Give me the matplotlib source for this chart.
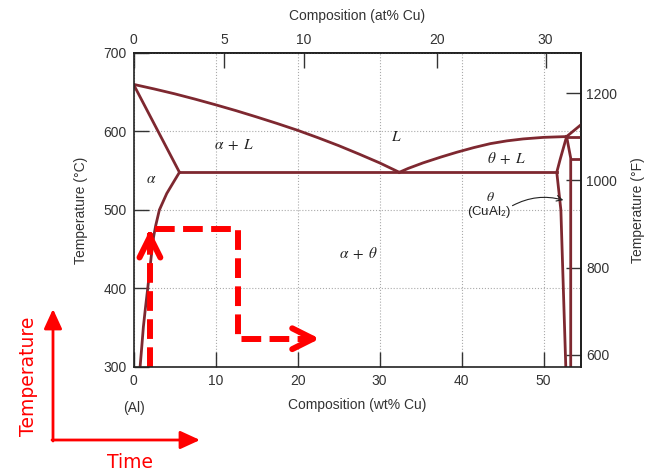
import numpy as np
import matplotlib
matplotlib.use('Agg')
import matplotlib.pyplot as plt

# Al-Cu phase boundaries (wt% Cu, deg C)
liquidus_al_x = [0, 2.5, 5, 7.5, 10, 12.5, 15, 17.5, 20, 22.5, 25, 27.5, 30, 32.4]
liquidus_al_t = [660, 654.2, 648, 641.2, 634, 626.5, 618.5, 610.2, 601.5, 592, 582, 571.2, 560, 548]
solidus_x = [0, 5.6]
solidus_t = [660, 548]
solvus_x = [5.6, 4.85, 4.05, 3.15, 2.7, 2.45, 2.15, 1.73, 1.45, 1.2, 1.0, 0.8]
solvus_t = [548, 535, 521, 500, 480, 466, 440, 400, 375, 351, 325, 300]
eutectic_x = [5.6, 51.6]
eutectic_t = [548, 548]
liquidus_theta_x = [32.4, 33.5, 35.3, 37.5, 39.4, 41.5, 43.5, 45.5, 47.5, 50.0, 52.8]
liquidus_theta_t = [548, 553, 560, 567.5, 573.5, 579.5, 584.5, 588, 590.5, 592.5, 593.5]
peritectic_x = [52.8, 54.6]
peritectic_t = [593.5, 593.5]
upper_x = [52.8, 54.6]
upper_t = [593.5, 609]
theta_left_x = [52.8, 52.0, 51.6, 52.1, 52.7]
theta_left_t = [593.5, 564, 548, 500, 300]
theta_right_x = [52.8, 53.3, 53.3]
theta_right_t = [593.5, 566, 300]
step_x = [53.3, 54.6]
step_t = [565, 565]

# phase field labels
region_labels = [r'$\alpha\;+\;L$', r'$L$', r'$\theta\;+\;L$', r'$\alpha$', r'$\alpha\;+\;\theta$']
region_x = [12.2, 32.1, 45.5, 2.2, 27.4]
region_t = [583, 593, 566, 540, 445]

# heat treatment path drawn in red
path_up_x = [2.0, 2.0]
path_up_t = [300, 468]
path_x = [2.6, 12.7, 12.7, 21.5]
path_t = [476, 476, 336, 336]

# tick values
wt_ticks = [0, 10, 20, 30, 40, 50]
at_ticks = [0, 5, 10, 20, 30]
c_ticks = [300, 400, 500, 600, 700]
f_ticks = [600, 800, 1000, 1200]

phase_color = '#7e2830'
text_color = '#333333'

plt.rc('font', family='Liberation Sans', size=10)
plt.rc('mathtext', fontset='stix')


def wt_to_at(w):
    w = np.asarray(w, dtype=float)
    cu = w / 63.546
    al = (100 - w) / 26.982
    return 100 * cu / (cu + al)


def at_to_wt(a):
    a = np.asarray(a, dtype=float)
    cu = a * 63.546
    al = (100 - a) * 26.982
    return 100 * cu / (cu + al)


def c_to_f(c):
    return np.asarray(c, dtype=float) * 9 / 5 + 32


def f_to_c(f):
    return (np.asarray(f, dtype=float) - 32) * 5 / 9


fig = plt.figure(figsize=(6.46, 4.75), dpi=100)
ax = fig.add_axes([0.2067, 0.2274, 0.6920, 0.6611])

# phase boundaries
for xs, ts in [(liquidus_al_x, liquidus_al_t), (solidus_x, solidus_t),
               (solvus_x, solvus_t), (eutectic_x, eutectic_t),
               (liquidus_theta_x, liquidus_theta_t), (peritectic_x, peritectic_t),
               (upper_x, upper_t), (theta_left_x, theta_left_t),
               (theta_right_x, theta_right_t), (step_x, step_t)]:
    ax.plot(xs, ts, color=phase_color, lw=2.0, solid_joinstyle='round')

for lab, x, t in zip(region_labels, region_x, region_t):
    ax.text(x, t, lab, ha='center', va='center', fontsize=11, color='#222')

# theta (CuAl2) callout
ax.text(43.5, 517, r'$\theta$', ha='center', va='center', fontsize=10, color='#222')
ax.text(43.4, 497, r'(CuAl$_{\mathsf{2}}$)', ha='center', va='center', fontsize=9.5, color='#222')
ax.annotate('', xy=(52.4, 512.5), xytext=(46.2, 505.5),
            arrowprops=dict(arrowstyle='->', color='#222', lw=0.8,
                            connectionstyle='arc3,rad=-0.2', shrinkA=0, shrinkB=0))

# red dashed heat treatment path
ax.plot(path_up_x, path_up_t, color='red', lw=4.3, linestyle=(0, (3.3, 1.4)),
        dash_capstyle='butt')
ax.plot(path_x, path_t, color='red', lw=4.3, linestyle=(0, (3.3, 1.4)),
        dash_capstyle='butt', dash_joinstyle='round')
ax.annotate('', xy=(2.0, 474.5), xytext=(2.0, 466),
            arrowprops=dict(arrowstyle='->,head_length=1.5,head_width=0.75', color='red',
                            lw=4.3, mutation_scale=10, shrinkA=0, shrinkB=0))
ax.annotate('', xy=(22.7, 336), xytext=(21.0, 336),
            arrowprops=dict(arrowstyle='->,head_length=1.5,head_width=0.75', color='red',
                            lw=4.3, mutation_scale=10, shrinkA=0, shrinkB=0))

ax.set_xlim(0, 54.5)
ax.set_ylim(300, 700)
ax.set_xticks(wt_ticks)
ax.set_yticks(c_ticks)
ax.grid(True, linestyle=':', color='#aaaaaa', lw=0.8)
ax.tick_params(direction='in', length=11, width=1, colors=text_color, labelsize=10, pad=5)
for sp in ax.spines.values():
    sp.set_linewidth(1.2)
    sp.set_color('#222')

ax.set_xlabel('Composition (wt% Cu)', color=text_color, labelpad=7)
ax.set_ylabel('Temperature (°C)', color=text_color, labelpad=11)
ax.text(0, -0.13, '(Al)', transform=ax.get_xaxis_transform(), ha='center', va='center',
        color=text_color)

# at% Cu on top
secx = ax.secondary_xaxis('top', functions=(wt_to_at, at_to_wt))
secx.set_xticks(at_ticks)
secx.tick_params(direction='in', length=11, width=1, colors=text_color, pad=4)
secx.set_xlabel('Composition (at% Cu)', color=text_color, labelpad=10)
secx.spines['top'].set_linewidth(1.2)

# deg F on right
secy = ax.secondary_yaxis('right', functions=(c_to_f, f_to_c))
secy.set_yticks(f_ticks)
secy.tick_params(direction='in', length=11, width=1, colors=text_color, pad=4)
secy.set_ylabel('Temperature (°F)', color=text_color, labelpad=10)
secy.spines['right'].set_linewidth(1.2)

# Temperature vs Time sketch axes in the corner
arrow_kw = dict(arrowstyle='-|>,head_length=1.2,head_width=0.55', color='red', lw=2,
                mutation_scale=10, shrinkA=0, shrinkB=0)
ax.annotate('', xy=(53 / 646, 1 - 309 / 475), xytext=(53 / 646, 1 - 441 / 475),
            xycoords='figure fraction', arrowprops=arrow_kw)
ax.annotate('', xy=(200 / 646, 1 - 440 / 475), xytext=(52 / 646, 1 - 440 / 475),
            xycoords='figure fraction', arrowprops=arrow_kw)
fig.text(29 / 646, 1 - 376 / 475, 'Temperature', rotation=90, color='red', fontsize=13.5,
         family='DejaVu Sans', ha='center', va='center')
fig.text(130 / 646, 1 - 463 / 475, 'Time', color='red', fontsize=13.5,
         family='DejaVu Sans', ha='center', va='center')

fig.savefig('out.png', dpi=100)
